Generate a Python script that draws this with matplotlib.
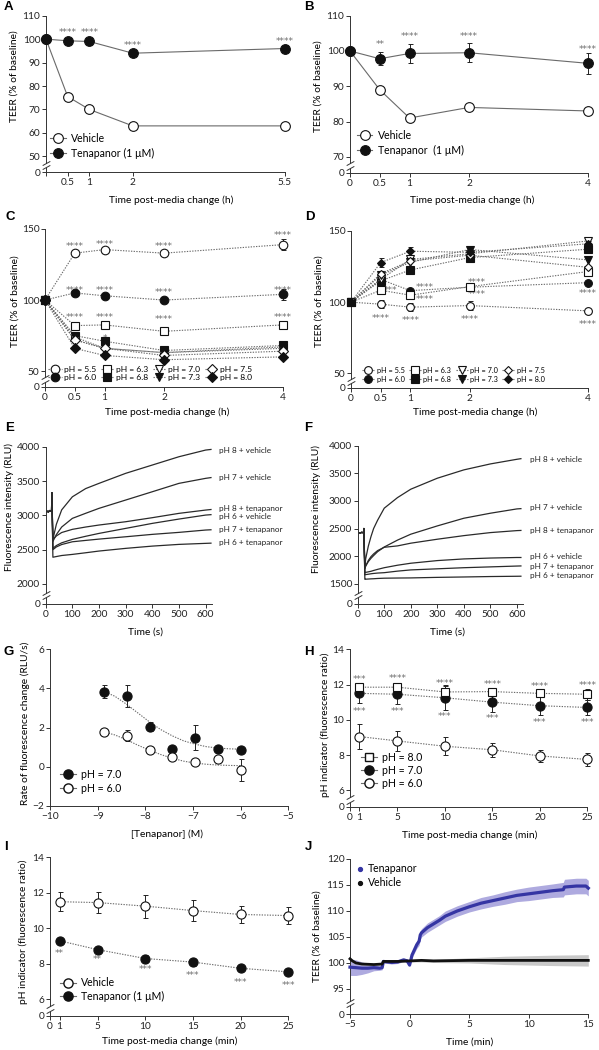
import numpy as np
import matplotlib
matplotlib.use('Agg')
import matplotlib.pyplot as plt
from matplotlib.lines import Line2D

plt.rcParams['font.family'] = ['Lato', 'DejaVu Sans']
plt.rcParams['font.size'] = 7.3
plt.rcParams['axes.linewidth'] = 0.7
plt.rcParams['axes.edgecolor'] = '#333333'
plt.rcParams['xtick.color'] = '#333333'
plt.rcParams['ytick.color'] = '#333333'
plt.rcParams['xtick.labelcolor'] = '#222222'
plt.rcParams['ytick.labelcolor'] = '#222222'
plt.rcParams['xtick.major.size'] = 2.6
plt.rcParams['ytick.major.size'] = 2.6
plt.rcParams['xtick.major.width'] = 0.7
plt.rcParams['ytick.major.width'] = 0.7
plt.rcParams['xtick.major.pad'] = 1.8
plt.rcParams['ytick.major.pad'] = 1.5

# ---------------- DATA ----------------
# Panel A
A_t = [0, 0.5, 1, 2, 5.5]
A_veh = [100, 75.5, 70, 63, 63]
A_ten = [100, 99.3, 99, 94, 96]
A_ten_err = [0, 0.8, 1.5, 0.8, 1.3]
A_star_x = [0.5, 1, 2, 5.5]
A_star_y = [103.6, 103.6, 98.2, 99.9]
A_star_txt = ['****', '****', '****', '****']
A_xticks = [0, 0.5, 1, 2, 5.5]
A_xticklabels = ['', '0.5', '1', '2', '5.5']

# Panel B
B_t = [0, 0.5, 1, 2, 4]
B_veh = [100, 89, 81, 84, 83]
B_ten = [100, 97.8, 99.3, 99.5, 96.5]
B_ten_err = [0, 1.8, 2.7, 2.7, 2.9]
B_star_x = [0.5, 1, 2, 4]
B_star_y = [102.2, 104.7, 104.7, 100.9]
B_star_txt = ['**', '****', '****', '****']

# Panel C / D  (pH series)
pH_labels = ['pH = 5.5', 'pH = 6.0', 'pH = 6.3', 'pH = 6.8',
             'pH = 7.0', 'pH = 7.3', 'pH = 7.5', 'pH = 8.0']
CD_t = [0, 0.5, 1, 2, 4]
C_55 = [100, 133, 135.5, 133, 139]
C_60 = [100, 105, 103, 100, 104]
C_63 = [100, 82, 82.5, 78, 82.5]
C_68 = [100, 75, 71, 64.5, 68]
C_70 = [100, 72, 66, 63, 67]
C_73 = [100, 74, 66, 63, 66]
C_75 = [100, 72, 66, 61, 64]
C_80 = [100, 66, 61, 58, 60]
C_55_err = [0, 1.5, 1.5, 1.5, 4]
C_60_err = [0, 1, 1, 1, 4]
C_star_x = [0.5, 1, 2, 4, 0.5, 1, 2, 4, 0.5, 1, 2, 4, 1]
C_star_y = [139.2, 140.6, 139.2, 146.5, 108.2, 107.7, 106.3, 107.7,
            88.7, 88.7, 87.5, 88.7, 74.2]
C_star_txt = ['****'] * 12 + ['*']

D_55 = [100, 98.6, 96.5, 97.6, 93.9]
D_60 = [100, 116, 108.1, 110.5, 113.7]
D_63 = [100, 108.4, 104.9, 110.9, 121.5]
D_68 = [100, 115, 122.6, 131.3, 137.2]
D_70 = [100, 116, 130, 134, 143]
D_73 = [100, 119, 128, 137, 129.7]
D_75 = [100, 120, 129, 133, 124.5]
D_80 = [100, 127.8, 135.8, 135, 141]
D_55_err = [0, 3, 3, 3, 0.5]
D_80_err = [0, 3, 3, 1.5, 2]
D_70_err = [0, 2, 2, 2, 2]
D_star_x = [0.5, 1, 2, 4, 0.66, 1.25, 1.25, 2.12, 2.12, 4]
D_star_y = [89.9, 88.3, 88.8, 85.7, 109.3, 111.4, 102.8, 114.9, 106.3, 107.4]
D_star_txt = ['****', '****', '****', '****', '***', '****', '****',
              '****', '****', '****']

# Panel E (fluorescence traces)
E_t = [0, 5, 10, 15, 20, 22, 23, 27, 40, 60, 100, 150, 200, 300, 400, 500, 600, 620]
E_ph8_veh = [3040, 3060, 3050, 3070, 3060, 3080, 3330, 2650, 2870, 3080, 3270, 3390, 3466, 3612, 3733, 3854, 3951, 3960]
E_ph7_veh = [3040, 3060, 3050, 3070, 3060, 3080, 3330, 2620, 2720, 2830, 2956, 3030, 3102, 3223, 3344, 3466, 3539, 3550]
E_ph8_ten = [3040, 3060, 3050, 3070, 3060, 3080, 3330, 2650, 2700, 2750, 2796, 2830, 2859, 2907, 2966, 3029, 3077, 3085]
E_ph6_veh = [3040, 3060, 3050, 3070, 3060, 3080, 3330, 2520, 2560, 2600, 2650, 2695, 2737, 2810, 2883, 2946, 3004, 3010]
E_ph7_ten = [3040, 3060, 3050, 3070, 3060, 3080, 3330, 2500, 2540, 2575, 2615, 2635, 2654, 2688, 2723, 2752, 2786, 2790]
E_ph6_ten = [3040, 3060, 3050, 3070, 3060, 3080, 3330, 2390, 2400, 2415, 2431, 2455, 2480, 2519, 2552, 2577, 2592, 2595]
E_names = ['pH 8 + vehicle', 'pH 7 + vehicle', 'pH 8 + tenapanor',
           'pH 6 + vehicle', 'pH 7 + tenapanor', 'pH 6 + tenapanor']
E_label_y = [3950, 3553, 3102, 2990, 2796, 2606]

# Panel F
F_t = [0, 5, 10, 15, 20, 22, 23, 27, 30, 40, 50, 60, 75, 100, 150, 200, 300, 400, 500, 600, 615]
F_ph8_veh = [2420, 2425, 2420, 2430, 2425, 2430, 2500, 1800, 1950, 2180, 2353, 2500, 2650, 2868, 3060, 3212, 3411, 3562, 3670, 3754, 3765]
F_ph7_veh = [2420, 2425, 2420, 2430, 2425, 2430, 2500, 1780, 1820, 1900, 1960, 2010, 2080, 2165, 2290, 2397, 2547, 2686, 2777, 2855, 2860]
F_ph8_ten = [2420, 2425, 2420, 2430, 2425, 2430, 2500, 1780, 1820, 1920, 1990, 2040, 2100, 2160, 2185, 2234, 2306, 2371, 2426, 2462, 2465]
F_ph6_veh = [2420, 2425, 2420, 2430, 2425, 2430, 2500, 1700, 1705, 1715, 1725, 1740, 1760, 1790, 1835, 1871, 1919, 1949, 1965, 1975, 1975]
F_ph7_ten = [2420, 2425, 2420, 2430, 2425, 2430, 2500, 1660, 1665, 1672, 1680, 1686, 1693, 1700, 1728, 1750, 1770, 1790, 1805, 1820, 1822]
F_ph6_ten = [2420, 2425, 2420, 2430, 2425, 2430, 2500, 1580, 1582, 1585, 1588, 1590, 1595, 1600, 1603, 1605, 1615, 1622, 1630, 1635, 1636]
F_names = ['pH 8 + vehicle', 'pH 7 + vehicle', 'pH 8 + tenapanor',
           'pH 6 + vehicle', 'pH 7 + tenapanor', 'pH 6 + tenapanor']
F_label_y = [3741, 2879, 2464, 1987, 1819, 1645]

# Panel G (dose response)
G_logc = [-8.863, -8.385, -7.908, -7.431, -6.954, -6.477, -6.0]
G_ph7 = [3.84, 3.62, 2.05, 0.9, 1.48, 0.88, 0.87]
G_ph7_err = [0.35, 0.55, 0.25, 0.1, 0.65, 0.1, 0.1]
G_ph6 = [1.77, 1.57, 0.85, 0.47, 0.23, 0.41, -0.18]
G_ph6_err = [0.1, 0.28, 0.1, 0.1, 0.1, 0.1, 0.55]
G_fit_x = [-8.88, -8.64, -8.4, -8.16, -7.92, -7.68, -7.44, -7.2, -6.96, -6.72, -6.48, -6.24, -6.0]
G_fit_ph7 = [3.85, 3.6, 3.2, 2.75, 2.3, 1.9, 1.58, 1.32, 1.15, 1.02, 0.95, 0.91, 0.89]
G_fit_ph6 = [1.78, 1.62, 1.38, 1.1, 0.85, 0.62, 0.43, 0.28, 0.18, 0.12, 0.08, 0.06, 0.05]

# Panel H
H_t = [1, 5, 10, 15, 20, 25]
H_ph8 = [11.85, 11.85, 11.58, 11.6, 11.5, 11.45]
H_ph8_err = [0.1, 0.1, 0.35, 0.1, 0.1, 0.3]
H_ph7 = [11.5, 11.45, 11.25, 11.0, 10.8, 10.7]
H_ph7_err = [0.55, 0.55, 0.7, 0.55, 0.5, 0.45]
H_ph6 = [9.05, 8.8, 8.5, 8.3, 7.95, 7.75]
H_ph6_err = [0.7, 0.55, 0.5, 0.4, 0.35, 0.35]
H_star_top_y = [12.4, 12.45, 12.16, 12.1, 12.0, 12.05]
H_star_top = ['***', '****', '****', '****', '****', '****']
H_star_bot_y = [10.58, 10.58, 10.28, 10.15, 9.96, 9.96]
H_star_bot = ['***'] * 6

# Panel I
I_t = [1, 5, 10, 15, 20, 25]
I_veh = [11.5, 11.45, 11.25, 11.0, 10.78, 10.72]
I_veh_err = [0.55, 0.6, 0.65, 0.6, 0.5, 0.5]
I_ten = [9.3, 8.8, 8.3, 8.1, 7.75, 7.55]
I_ten_err = [0.1, 0.1, 0.2, 0.2, 0.12, 0.12]
I_star_y = [8.69, 8.32, 7.76, 7.44, 7.07, 6.9]
I_star = ['**', '**', '***', '***', '***', '***']

# Panel J (TEER time course)
J_t_ten = [-5, -4.5, -4, -3.5, -3, -2.5, -2.3, -2.2, -1.5, -1, -0.5, -0.2, 0, 0.1, 0.2,
           0.4, 0.6, 0.8, 0.9, 1.0, 1.5, 2, 2.5, 3, 3.5, 4, 5, 6, 7, 8, 9, 10, 11, 12,
           12.9, 13.0, 14, 14.8, 15]
J_ten = [99.2, 99.1, 99.0, 99.0, 99.1, 99.0, 99.1, 100.3, 100.1, 100.2, 100.6, 100.4,
         99.6, 100.5, 101.5, 102.5, 103.5, 104.2, 105.4, 105.8, 106.8, 107.5, 108.2,
         109.0, 109.5, 110.0, 110.8, 111.5, 112.0, 112.5, 113.0, 113.3, 113.6, 113.9,
         114.1, 114.6, 114.8, 114.8, 114.4]
J_ten_sem = [1.6, 1.5, 1.2, 0.9, 0.6, 0.4, 0.4, 0.3, 0.3, 0.3, 0.3, 0.3, 0.3, 0.4,
             0.5, 0.6, 0.7, 0.8, 0.8, 0.8, 0.9, 0.9, 0.9, 1.0, 1.0, 1.0, 1.0, 1.1,
             1.1, 1.2, 1.2, 1.3, 1.3, 1.3, 1.4, 1.5, 1.5, 1.5, 1.5]
J_t_veh = [-5, -4.8, -4.5, -4, -3, -2.3, -2.2, -1, 0, 1, 2, 5, 8, 10, 12, 15]
J_veh = [100.8, 100.4, 100.0, 99.8, 99.7, 99.8, 100.3, 100.3, 100.4, 100.5, 100.4,
         100.5, 100.5, 100.5, 100.5, 100.5]
J_veh_sem = [0.3, 0.3, 0.2, 0.2, 0.2, 0.2, 0.2, 0.2, 0.2, 0.3, 0.3, 0.5, 0.8, 0.9, 1.0, 1.1]

# ---------------- HELPERS ----------------
W, H = 599, 1050
fig = plt.figure(figsize=(W / 100, H / 100), dpi=100)
fig.patch.set_facecolor('white')

INK = '#111111'
LINE = '#6a6a6a'
STAR = '#6e6e6e'
DOT = (0, (1.2, 1.2))


def add_ax(l, t, r, b):
    ax = fig.add_axes([l / W, 1 - b / H, (r - l) / W, (b - t) / H])
    ax.spines['top'].set_visible(False)
    ax.spines['right'].set_visible(False)
    ax.patch.set_alpha(0)
    return ax, (r - l), (b - t)


def broken(ax, hpx, lo, gap, top, ticks):
    def fwd(y):
        y = np.asarray(y, dtype=float)
        return np.where(y < lo, y * gap / lo, y - lo + gap)

    def inv(u):
        u = np.asarray(u, dtype=float)
        return np.where(u < gap, u * lo / gap, u + lo - gap)

    ax.set_yscale('function', functions=(fwd, inv))
    ax.set_ylim(0, top)
    ax.set_yticks([0] + list(ticks))
    ax.set_yticklabels(['0'] + [str(t) for t in ticks])
    U = top - lo + gap
    ub = gap * 0.45
    du = 2.2 / hpx * U
    y_hi = float(inv(ub + du))
    y_lo = float(inv(ub - du))
    ax.spines['left'].set_bounds(y_hi, top)
    tr = ax.get_yaxis_transform()
    ax.plot([0, 0], [0, y_lo], transform=tr, color='#333333', lw=0.7,
            clip_on=False, solid_capstyle='butt')
    for yy in (y_lo, y_hi):
        ax.plot([0], [yy], transform=tr, marker=[(-1, -0.55), (1, 0.55)],
                ms=5.5, mew=0.7, color='#333333', mec='#333333',
                linestyle='none', clip_on=False)


def series(ax, x, y, err, marker, filled, ms, ls, lw=0.8, label=None, lc=LINE, z=3):
    if err is not None:
        ax.errorbar(x, y, yerr=err, fmt='none', ecolor='#222222', elinewidth=0.7,
                    capsize=1.8, capthick=0.7, zorder=2, clip_on=False)
    ax.plot(x, y, linestyle=ls, color=lc, lw=lw, marker=marker, ms=ms,
            mfc=INK if filled else 'white', mec=INK, mew=0.8, label=label,
            zorder=z, clip_on=False)


def stars(ax, xs, ys, txts, fs=6.6):
    for x, y, s in zip(xs, ys, txts):
        ax.annotate(s, (x, y), xytext=(0, -3.0), textcoords='offset points',
                    ha='center', va='baseline', fontsize=fs, color=STAR,
                    family=['DejaVu Sans'], annotation_clip=False)


def ftext(x, y, s, **kw):
    fig.text(x / W, 1 - y / H, s, **kw)


def letter(x, y, s):
    ftext(x, y, s, fontsize=9.5, fontweight='bold', ha='left', va='center',
          family=['Liberation Sans', 'DejaVu Sans'])


LAB = 7.4
# ---------------- PANEL A ----------------
ax, wpx, hpx = add_ax(46, 15.7, 284.5, 172.3)
broken(ax, hpx, 50, 6.8, 110, [50, 60, 70, 80, 90, 100, 110])
ax.set_xlim(0, 5.5)
ax.set_xticks(A_xticks)
ax.set_xticklabels(A_xticklabels)
series(ax, A_t, A_veh, None, 'o', False, 7, '-', label='Vehicle')
series(ax, A_t, A_ten, A_ten_err, 'o', True, 7, '-', label='Tenapanor (1 μM)')
stars(ax, A_star_x, A_star_y, A_star_txt)
ax.legend(loc='lower left', bbox_to_anchor=(0.0, 0.06), frameon=False,
          fontsize=7.6, handlelength=1.5, handletextpad=0.5, labelspacing=0.35,
          borderaxespad=0)
letter(4, 7, 'A')
ftext(171, 200, 'Time post-media change (h)', fontsize=LAB, ha='center', va='center')
ftext(14, 76, 'TEER (% of baseline)', fontsize=LAB, ha='center', va='center', rotation=90)

# ---------------- PANEL B ----------------
ax, wpx, hpx = add_ax(350, 15.7, 588, 172.7)
broken(ax, hpx, 70, 4.5, 110, [70, 80, 90, 100, 110])
ax.set_xlim(0, 4)
ax.set_xticks([0, 0.5, 1, 2, 4])
ax.set_xticklabels(['0', '0.5', '1', '2', '4'])
series(ax, B_t, B_veh, None, 'o', False, 7, '-', label='Vehicle')
series(ax, B_t, B_ten, B_ten_err, 'o', True, 7, '-', label='Tenapanor  (1 μM)')
stars(ax, B_star_x, B_star_y, B_star_txt)
ax.legend(loc='lower left', bbox_to_anchor=(0.01, 0.08), frameon=False,
          fontsize=7.6, handlelength=1.5, handletextpad=0.5, labelspacing=0.35,
          borderaxespad=0)
letter(304, 7, 'B')
ftext(472, 200, 'Time post-media change (h)', fontsize=LAB, ha='center', va='center')
ftext(318, 86, 'TEER (% of baseline)', fontsize=LAB, ha='center', va='center', rotation=90)

# ---------------- PANEL C ----------------
markers = ['o', 'o', 's', 's', 'v', 'v', 'D', 'D']
fills = [False, True, False, True, False, True, False, True]
sizes_C = [6.2, 6.2, 5.8, 5.8, 5.8, 5.8, 4.6, 4.6]
C_all = [C_55, C_60, C_63, C_68, C_70, C_73, C_75, C_80]
C_errs = [C_55_err, C_60_err, None, None, None, None, None, None]
ax, wpx, hpx = add_ax(45, 229, 283, 386.7)
broken(ax, hpx, 50, 11, 150, [50, 100, 150])
ax.set_xlim(0, 4)
ax.set_xticks([0, 0.5, 1, 2, 4])
ax.set_xticklabels(['0', '0.5', '1', '2', '4'])
for i in range(8):
    series(ax, CD_t, C_all[i], C_errs[i], markers[i], fills[i], sizes_C[i], DOT,
           label=pH_labels[i], z=3 + i * 0.1)
stars(ax, C_star_x, C_star_y, C_star_txt, fs=6.5)
ax.legend(loc='lower left', bbox_to_anchor=(0.0, 0.012), frameon=False, ncol=4,
          fontsize=6.1, handlelength=1.6, handletextpad=0.25, labelspacing=0.15,
          columnspacing=0.5, borderaxespad=0, markerscale=1.0)
letter(5, 217, 'C')
ftext(167, 412, 'Time post-media change (h)', fontsize=LAB, ha='center', va='center')
ftext(15, 301, 'TEER (% of baseline)', fontsize=LAB, ha='center', va='center', rotation=90)

# ---------------- PANEL D ----------------
D_all = [D_55, D_60, D_63, D_68, D_70, D_73, D_75, D_80]
D_errs = [D_55_err, None, None, None, D_70_err, None, None, D_80_err]
sizes_D = [5.6, 5.6, 5.2, 5.2, 5.2, 5.2, 4.2, 4.2]
ax, wpx, hpx = add_ax(351, 231, 588, 387.7)
broken(ax, hpx, 50, 10.1, 150, [50, 100, 150])
ax.set_xlim(0, 4)
ax.set_xticks([0, 0.5, 1, 2, 4])
ax.set_xticklabels(['0', '0.5', '1', '2', '4'])
for i in range(8):
    series(ax, CD_t, D_all[i], D_errs[i], markers[i], fills[i], sizes_D[i], DOT,
           label=pH_labels[i], z=3 + i * 0.1)
stars(ax, D_star_x, D_star_y, D_star_txt, fs=6.5)
ax.legend(loc='lower left', bbox_to_anchor=(0.035, 0.012), frameon=False, ncol=4,
          fontsize=5.3, handlelength=1.7, handletextpad=0.25, labelspacing=0.3,
          columnspacing=0.6, borderaxespad=0, markerscale=1.0)
letter(305, 217, 'D')
ftext(475, 412, 'Time post-media change (h)', fontsize=LAB, ha='center', va='center')
ftext(319, 301, 'TEER (% of baseline)', fontsize=LAB, ha='center', va='center', rotation=90)

# ---------------- PANEL E ----------------
ax, wpx, hpx = add_ax(45.7, 446.7, 212.3, 603.7)
broken(ax, hpx, 2000, 287, 4000, [2000, 2500, 3000, 3500, 4000])
ax.set_xlim(0, 625)
ax.set_xticks([0, 100, 200, 300, 400, 500, 600])
for tr, nm, ly in zip([E_ph8_veh, E_ph7_veh, E_ph8_ten, E_ph6_veh, E_ph7_ten, E_ph6_ten],
                      E_names, E_label_y):
    ax.plot(E_t, tr, color='#2a2a2a', lw=0.9)
    ax.text(649, ly, nm, fontsize=5.9, ha='left', va='center', color='#222222')
letter(5, 428, 'E')
ftext(146, 632, 'Time (s)', fontsize=LAB, ha='center', va='center')
ftext(9, 507, 'Fluorescence intensity (RLU)', fontsize=LAB, ha='center', va='center', rotation=90)

# ---------------- PANEL F ----------------
ax, wpx, hpx = add_ax(357.7, 445.7, 523.3, 603.7)
broken(ax, hpx, 1500, 362, 4000, [1500, 2000, 2500, 3000, 3500, 4000])
ax.set_xlim(0, 624)
ax.set_xticks([0, 100, 200, 300, 400, 500, 600])
for tr, nm, ly in zip([F_ph8_veh, F_ph7_veh, F_ph8_ten, F_ph6_veh, F_ph7_ten, F_ph6_ten],
                      F_names, F_label_y):
    ax.plot(F_t, tr, color='#2a2a2a', lw=0.9)
    ax.text(649, ly, nm, fontsize=5.9, ha='left', va='center', color='#222222')
letter(304, 428, 'F')
ftext(448, 632, 'Time (s)', fontsize=LAB, ha='center', va='center')
ftext(316, 509, 'Fluorescence intensity (RLU)', fontsize=LAB, ha='center', va='center', rotation=90)

# ---------------- PANEL G ----------------
ax, wpx, hpx = add_ax(50, 649.3, 288.3, 805.7)
ax.set_xlim(-10, -5)
ax.set_ylim(-2, 6)
ax.set_xticks([-10, -9, -8, -7, -6, -5])
ax.set_yticks([-2, 0, 2, 4, 6])
ax.plot(G_fit_x, G_fit_ph7, linestyle=DOT, color=LINE, lw=0.8, zorder=1)
ax.plot(G_fit_x, G_fit_ph6, linestyle=DOT, color=LINE, lw=0.8, zorder=1)
series(ax, G_logc, G_ph7, G_ph7_err, 'o', True, 6.6, 'none', label='pH = 7.0')
series(ax, G_logc, G_ph6, G_ph6_err, 'o', False, 6.6, 'none', label='pH = 6.0')
hG = [Line2D([], [], color=LINE, lw=0.8, marker='o', ms=6.6, mfc=INK, mec=INK),
      Line2D([], [], color=LINE, lw=0.8, marker='o', ms=6.6, mfc='white', mec=INK)]
ax.legend(hG, ['pH = 7.0', 'pH = 6.0'], loc='lower left', bbox_to_anchor=(0.025, 0.05),
          frameon=False, fontsize=7.6, handlelength=1.5, handletextpad=0.5,
          labelspacing=0.25, borderaxespad=0)
letter(4, 652, 'G')
ftext(167, 834, '[Tenapanor] (M)', fontsize=LAB, ha='center', va='center')
ftext(25, 723, 'Rate of fluorescence change (RLU/s)', fontsize=LAB, ha='center', va='center', rotation=90)

# ---------------- PANEL H ----------------
ax, wpx, hpx = add_ax(350, 649.3, 587.3, 806.7)
broken(ax, hpx, 6, 0.93, 14, [6, 8, 10, 12, 14])
ax.set_xlim(0, 25)
ax.set_xticks([0, 1, 5, 10, 15, 20, 25])
ax.set_xticklabels(['0', '1', '5', '10', '15', '20', '25'])
series(ax, H_t, H_ph8, H_ph8_err, 's', False, 6.2, DOT, label='pH = 8.0', z=4)
series(ax, H_t, H_ph7, H_ph7_err, 'o', True, 6.6, DOT, label='pH = 7.0', z=3)
series(ax, H_t, H_ph6, H_ph6_err, 'o', False, 6.6, DOT, label='pH = 6.0', z=3)
stars(ax, H_t, H_star_top_y, H_star_top, fs=6.5)
stars(ax, H_t, H_star_bot_y, H_star_bot, fs=6.5)
hH = [Line2D([], [], color=LINE, lw=0.8, marker='s', ms=6.2, mfc='white', mec=INK),
      Line2D([], [], color=LINE, lw=0.8, marker='o', ms=6.6, mfc=INK, mec=INK),
      Line2D([], [], color=LINE, lw=0.8, marker='o', ms=6.6, mfc='white', mec=INK)]
ax.legend(hH, ['pH = 8.0', 'pH = 7.0', 'pH = 6.0'], loc='lower left',
          bbox_to_anchor=(0.03, 0.085), frameon=False, fontsize=7.6, handlelength=1.5,
          handletextpad=0.5, labelspacing=0.2, borderaxespad=0)
letter(304, 652, 'H')
ftext(470, 835, 'Time post-media change (min)', fontsize=LAB, ha='center', va='center')
ftext(325, 725, 'pH indicator (fluorescence ratio)', fontsize=LAB, ha='center', va='center', rotation=90)

# ---------------- PANEL I ----------------
ax, wpx, hpx = add_ax(50, 857.3, 288.3, 1015.7)
broken(ax, hpx, 6, 0.92, 14, [6, 8, 10, 12, 14])
ax.set_xlim(0, 25)
ax.set_xticks([0, 1, 5, 10, 15, 20, 25])
ax.set_xticklabels(['0', '1', '5', '10', '15', '20', '25'])
series(ax, I_t, I_veh, I_veh_err, 'o', False, 6.6, DOT, label='Vehicle')
series(ax, I_t, I_ten, I_ten_err, 'o', True, 6.6, DOT, label='Tenapanor (1 μM)')
stars(ax, I_t, I_star_y, I_star, fs=6.5)
hI = [Line2D([], [], color=LINE, lw=0.8, marker='o', ms=6.6, mfc='white', mec=INK),
      Line2D([], [], color=LINE, lw=0.8, marker='o', ms=6.6, mfc=INK, mec=INK)]
ax.legend(hI, ['Vehicle', 'Tenapanor (1 μM)'], loc='lower left',
          bbox_to_anchor=(0.025, 0.06), frameon=False, fontsize=7.6, handlelength=1.5,
          handletextpad=0.5, labelspacing=0.25, borderaxespad=0)
letter(4, 847, 'I')
ftext(170, 1041, 'Time post-media change (min)', fontsize=LAB, ha='center', va='center')
ftext(23, 932, 'pH indicator (fluorescence ratio)', fontsize=LAB, ha='center', va='center', rotation=90)

# ---------------- PANEL J ----------------
ax, wpx, hpx = add_ax(350, 859, 588.3, 1014.3)
broken(ax, hpx, 95, 4.87, 120, [95, 100, 105, 110, 115, 120])
ax.set_xlim(-5, 15)
ax.set_xticks([-5, 0, 5, 10, 15])
jt = np.array(J_t_ten)
jv = np.array(J_ten)
js = np.array(J_ten_sem)
ax.fill_between(jt, jv - js, jv + js, color='#aeaadf', lw=0, zorder=1, clip_on=False)
vt = np.array(J_t_veh)
vv = np.array(J_veh)
vs = np.array(J_veh_sem)
ax.fill_between(vt, vv - vs, vv + vs, color='#c8c8c8', lw=0, zorder=1, clip_on=False)
ax.plot(jt, jv, color='#3535a3', lw=2.3, zorder=3, clip_on=False)
ax.plot(vt, vv, color='#111111', lw=2.0, zorder=4, clip_on=False)
hJ = [Line2D([], [], color='#3535a3', lw=0, marker='o', ms=2.8),
      Line2D([], [], color='#111111', lw=0, marker='o', ms=2.8)]
ax.legend(hJ, ['Tenapanor', 'Vehicle'], loc='upper left', bbox_to_anchor=(0.0, 1.0),
          frameon=False, fontsize=7.6, handlelength=1.0, handletextpad=0.3,
          labelspacing=0.3, borderaxespad=0)
letter(305, 847, 'J')
ftext(470, 1042, 'Time (min)', fontsize=LAB, ha='center', va='center')
ftext(317, 936, 'TEER (% of baseline)', fontsize=LAB, ha='center', va='center', rotation=90)

fig.savefig('out.png', dpi=100)
